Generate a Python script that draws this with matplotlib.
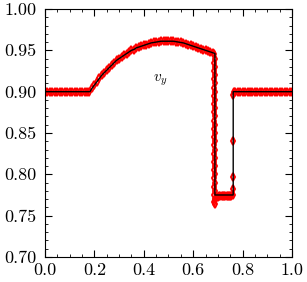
import numpy as np
import matplotlib
matplotlib.use("Agg")
import matplotlib.pyplot as plt
from matplotlib.ticker import MultipleLocator, FormatStrFormatter

plt.rcParams['font.family'] = 'serif'
plt.rcParams['font.serif'] = ['cmr10']
plt.rcParams['mathtext.fontset'] = 'cm'
plt.rcParams['axes.formatter.use_mathtext'] = True

# ---- numerical solution (red diamonds) ----
x_left = [0.00, 0.01, 0.02, 0.03, 0.04, 0.05, 0.06, 0.07, 0.08, 0.09,
          0.10, 0.11, 0.12, 0.13, 0.14, 0.15, 0.16, 0.17]
y_left = [0.900] * 18

x_rare = [0.18, 0.19, 0.20, 0.21, 0.22, 0.23, 0.24, 0.25, 0.26, 0.27,
          0.28, 0.29, 0.30, 0.31, 0.32, 0.33, 0.34, 0.35, 0.36, 0.37,
          0.38, 0.39, 0.40, 0.41, 0.42, 0.43, 0.44, 0.45, 0.46, 0.47,
          0.48, 0.49, 0.50, 0.51, 0.52, 0.53, 0.54, 0.55, 0.56, 0.57,
          0.58, 0.59, 0.60, 0.61, 0.62, 0.63, 0.64, 0.65, 0.66, 0.67, 0.68]
y_rare = [0.900, 0.904, 0.908, 0.912, 0.916, 0.920, 0.923, 0.926, 0.929, 0.932,
          0.935, 0.938, 0.940, 0.942, 0.944, 0.946, 0.948, 0.950, 0.951, 0.953,
          0.954, 0.955, 0.956, 0.957, 0.958, 0.959, 0.9595, 0.960, 0.9605, 0.961,
          0.961, 0.961, 0.961, 0.961, 0.961, 0.9605, 0.960, 0.9595, 0.959, 0.958,
          0.957, 0.956, 0.955, 0.954, 0.953, 0.952, 0.951, 0.950, 0.949, 0.948, 0.947]

x_drop = [0.686, 0.690] * 19
y_drop = [0.945, 0.940, 0.935, 0.930, 0.925, 0.920, 0.915, 0.910, 0.905, 0.900,
          0.895, 0.890, 0.885, 0.880, 0.875, 0.870, 0.865, 0.860, 0.855, 0.850,
          0.845, 0.840, 0.835, 0.830, 0.825, 0.820, 0.815, 0.810, 0.805, 0.800,
          0.795, 0.790, 0.785, 0.780, 0.775, 0.770, 0.766, 0.764]

x_mid = [0.695, 0.70, 0.705, 0.71, 0.715, 0.72, 0.725, 0.73, 0.735, 0.74,
         0.745, 0.75, 0.755, 0.76]
y_mid = [0.772, 0.773, 0.774, 0.774, 0.774, 0.774, 0.774, 0.774, 0.774, 0.774,
         0.774, 0.774, 0.774, 0.775]

x_shock = [0.762, 0.762, 0.762, 0.762]
y_shock = [0.782, 0.797, 0.840, 0.896]

x_right = [0.765, 0.77, 0.78, 0.79, 0.80, 0.81, 0.82, 0.83, 0.84, 0.85, 0.86,
           0.87, 0.88, 0.89, 0.90, 0.91, 0.92, 0.93, 0.94, 0.95, 0.96,
           0.97, 0.98, 0.99, 1.00]
y_right = [0.900] * 25

# ---- exact solution (black line) ----
x_exact = [0.0, 0.182] + x_rare[1:] + [0.688, 0.688, 0.762, 0.762, 1.0]
y_exact = [0.900, 0.900] + y_rare[1:] + [0.946, 0.775, 0.775, 0.900, 0.900]

x_num = x_left + x_rare + x_drop + x_mid + x_shock + x_right
y_num = y_left + y_rare + y_drop + y_mid + y_shock + y_right

fig = plt.figure(figsize=(3.07, 2.82), dpi=100)
ax = fig.add_axes([0.1466, 0.0887, 0.8045, 0.8794])

ax.plot(x_num, y_num, linestyle='none', marker='d', markersize=4.2,
        markerfacecolor='none', markeredgecolor='red', markeredgewidth=1.4, zorder=2)
ax.plot(x_exact, y_exact, color='black', linewidth=1.0, zorder=3)

ax.set_xlim(0, 1)
ax.set_ylim(0.70, 1.00)
ax.xaxis.set_major_locator(MultipleLocator(0.2))
ax.xaxis.set_minor_locator(MultipleLocator(0.05))
ax.yaxis.set_major_locator(MultipleLocator(0.05))
ax.yaxis.set_minor_locator(MultipleLocator(0.01))
ax.xaxis.set_major_formatter(FormatStrFormatter('%.1f'))
ax.yaxis.set_major_formatter(FormatStrFormatter('%.2f'))
ax.tick_params(which='both', direction='in', top=True, right=True, labelsize=13)
ax.tick_params(which='major', length=5, width=0.8)
ax.tick_params(which='minor', length=2.5, width=0.6)
ax.tick_params(axis='y', which='major', pad=6)
ax.tick_params(axis='x', which='major', pad=4)

ax.text(0.466, 0.914, r'$v_y$', fontsize=11, ha='center', va='center')

fig.savefig('out.png', dpi=100)
